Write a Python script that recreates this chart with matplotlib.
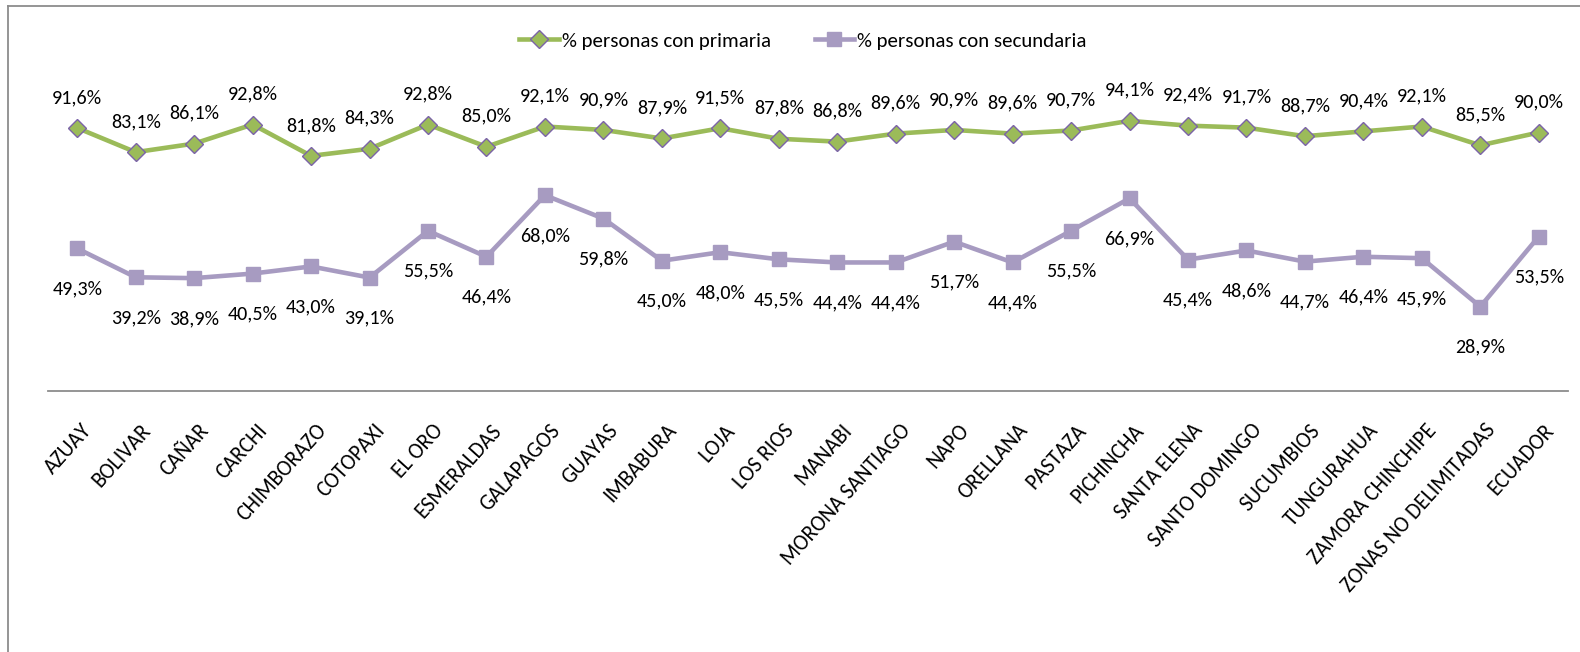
import matplotlib.pyplot as plt
from matplotlib.lines import Line2D
from matplotlib.transforms import ScaledTranslation

# -----------------------------
# Data
# -----------------------------
provincias = [
    "AZUAY", "BOLIVAR", "CAÑAR", "CARCHI", "CHIMBORAZO", "COTOPAXI", "EL ORO",
    "ESMERALDAS", "GALAPAGOS", "GUAYAS", "IMBABURA", "LOJA", "LOS RIOS",
    "MANABI", "MORONA SANTIAGO", "NAPO", "ORELLANA", "PASTAZA", "PICHINCHA",
    "SANTA ELENA", "SANTO DOMINGO", "SUCUMBIOS", "TUNGURAHUA",
    "ZAMORA CHINCHIPE", "ZONAS NO DELIMITADAS", "ECUADOR",
]
primaria = [91.6, 83.1, 86.1, 92.8, 81.8, 84.3, 92.8, 85.0, 92.1, 90.9, 87.9,
            91.5, 87.8, 86.8, 89.6, 90.9, 89.6, 90.7, 94.1, 92.4, 91.7, 88.7,
            90.4, 92.1, 85.5, 90.0]
secundaria = [49.3, 39.2, 38.9, 40.5, 43.0, 39.1, 55.5, 46.4, 68.0, 59.8, 45.0,
              48.0, 45.5, 44.4, 44.4, 51.7, 44.4, 55.5, 66.9, 45.4, 48.6, 44.7,
              46.4, 45.9, 28.9, 53.5]

GREEN = "#9BBB59"
PURPLE = "#A79BC1"
EDGE = "#7B63A8"

plt.rcParams["font.family"] = ["Carlito", "Lato", "DejaVu Sans"]

W, H = 1580, 652
fig = plt.figure(figsize=(W / 100, H / 100), dpi=100)
ax = fig.add_axes([48 / W, 1 - 391 / H, 1520 / W, 287 / H])

x = list(range(len(provincias)))
ax.plot(x, primaria, color=GREEN, lw=3.3, marker="D", ms=9,
        mfc=GREEN, mec=EDGE, mew=1.0, label="% personas con primaria")
ax.plot(x, secundaria, color=PURPLE, lw=3.3, marker="s", ms=10,
        mfc=PURPLE, mec=PURPLE, label="% personas con secundaria")

def pct(v):
    return f"{v:.1f}%".replace(".", ",")

for xi, v in zip(x, primaria):
    ax.annotate(pct(v), (xi, v), xytext=(0, 18), textcoords="offset points",
                ha="center", va="baseline", fontsize=14.5)
for xi, v in zip(x, secundaria):
    ax.annotate(pct(v), (xi, v), xytext=(0, -33), textcoords="offset points",
                ha="center", va="baseline", fontsize=14.5)

ax.set_xlim(-0.5, len(provincias) - 0.5)
ax.set_ylim(-0.7, 100)
ax.set_yticks([])
ax.set_xticks(x)
ax.set_xticklabels(provincias, rotation=48, ha="right", va="top",
                   rotation_mode="anchor", fontsize=15.5)
ax.tick_params(axis="x", length=0, pad=21)
shift = ScaledTranslation(4 / 100, 0, fig.dpi_scale_trans)
for lbl in ax.get_xticklabels():
    lbl.set_transform(lbl.get_transform() + shift)
for s in ["top", "right", "left"]:
    ax.spines[s].set_visible(False)
ax.spines["bottom"].set_color("#8C8C8C")
ax.spines["bottom"].set_linewidth(1.3)

fig.legend(loc="center", bbox_to_anchor=(803 / W, 1 - 41 / H), ncol=2,
           frameon=False, fontsize=15, handlelength=1.9, columnspacing=2.1,
           handletextpad=0.15)

# chart frame (left and top edges visible)
fig.add_artist(Line2D([8 / W, 8 / W], [0, 1 - 6 / H],
                      transform=fig.transFigure, color="#8C8C8C", lw=1.3))
fig.add_artist(Line2D([8 / W, 1], [1 - 6 / H, 1 - 6 / H],
                      transform=fig.transFigure, color="#8C8C8C", lw=1.3))

fig.savefig("out.png", dpi=100)
